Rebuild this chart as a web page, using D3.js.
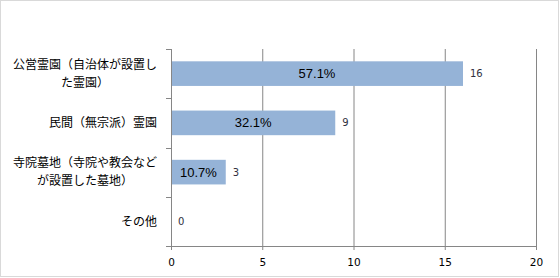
<!DOCTYPE html>
<html>
<head>
<meta charset="utf-8">
<script src="https://cdn.jsdelivr.net/npm/d3@7"></script>
<style>
  body { margin: 0; background: #fff; }
  svg { display: block; }
  .axis text { font-family: "DejaVu Sans", sans-serif; font-size: 10.5px; fill: #000; }
  .cat-label { font-family: "Noto Sans CJK JP", sans-serif; font-size: 12px; fill: #000; }
</style>
</head>
<body>
<div id="chart"></div>
<script>
// data
const categories = ['公営霊園', '民間', '寺院墓地', 'その他']
const categoryLines = [
  ['公営霊園（自治体が設置し', 'た霊園）'],
  ['民間（無宗派）霊園'],
  ['寺院墓地（寺院や教会など', 'が設置した墓地）'],
  ['その他']
]
const counts = [16, 9, 3, 0]
const percentLabels = ['57.1%', '32.1%', '10.7%', '']
const xTicks = [0, 5, 10, 15, 20]

const W = 560
const H = 278
const margin = { top: 49, right: 24, bottom: 32, left: 171 }
const width = 536 - margin.left
const height = 246 - margin.top

const svg = d3.select('#chart')
  .append('svg')
  .attr('width', W)
  .attr('height', H)

// outer frame
svg.append('rect')
  .attr('x', 0.5).attr('y', 0.5)
  .attr('width', W - 2).attr('height', H - 2)
  .attr('fill', '#fff')
  .attr('stroke', '#d9d9d9')

const g = svg.append('g')
  .attr('transform', `translate(${margin.left},${margin.top})`)

const x = d3.scaleLinear().domain([0, 20]).range([0, width])
const y = d3.scaleBand().domain(categories).range([0, height]).paddingInner(0.5).paddingOuter(0.25)

// gridlines
g.append('g')
  .attr('class', 'grid')
  .attr('transform', `translate(0,${height})`)
  .call(d3.axisBottom(x).tickValues(xTicks.slice(1)).tickSize(-height).tickFormat(''))
  .call(s => s.select('.domain').remove())
  .selectAll('line')
  .attr('stroke', '#868686')

// bars
g.selectAll('.bar')
  .data(counts)
  .enter()
  .append('rect')
  .attr('class', 'bar')
  .attr('x', 0)
  .attr('y', (d, i) => y(categories[i]))
  .attr('width', d => x(d))
  .attr('height', y.bandwidth())
  .attr('fill', '#95b3d7')

// percent labels inside bars
g.selectAll('.pct')
  .data(counts)
  .enter()
  .append('text')
  .attr('class', 'pct')
  .attr('x', d => x(d) / 2)
  .attr('y', (d, i) => y(categories[i]) + y.bandwidth() / 2)
  .attr('dy', '0.35em')
  .attr('text-anchor', 'middle')
  .attr('font-family', '"Liberation Sans", sans-serif')
  .attr('font-size', 13)
  .attr('fill', '#000')
  .text((d, i) => percentLabels[i])

// count labels
g.selectAll('.count')
  .data(counts)
  .enter()
  .append('text')
  .attr('class', 'count')
  .attr('x', d => x(d) + 7)
  .attr('y', (d, i) => y(categories[i]) + y.bandwidth() / 2)
  .attr('dy', '0.35em')
  .attr('font-family', '"DejaVu Sans", sans-serif')
  .attr('font-size', 10)
  .attr('fill', '#303040')
  .text(d => d)

// x axis
g.append('g')
  .attr('class', 'axis x-axis')
  .attr('transform', `translate(0,${height})`)
  .call(d3.axisBottom(x).tickValues(xTicks).tickSize(4).tickPadding(9))
  .call(s => s.select('.domain').attr('stroke', '#868686').attr('d', `M0,0.5H${width}`))
  .call(s => s.selectAll('line').attr('stroke', '#868686'))

// y axis line + boundary ticks
const step = y.step()
const yStart = y(categories[0]) - y.paddingOuter() * step
const bounds = d3.range(categories.length + 1).map(i => yStart + i * step)
g.append('line')
  .attr('x1', 0.5).attr('x2', 0.5)
  .attr('y1', 0).attr('y2', height)
  .attr('stroke', '#868686')
g.selectAll('.ytick')
  .data(bounds)
  .enter()
  .append('line')
  .attr('class', 'ytick')
  .attr('x1', -5).attr('x2', 0)
  .attr('y1', d => Math.round(d) + 0.5).attr('y2', d => Math.round(d) + 0.5)
  .attr('stroke', '#868686')

// category labels: full-width glyphs, so width = chars * font size;
// block is right-aligned, lines centred inside the block
const labelRight = -14
const fs = 12
categoryLines.forEach((lines, i) => {
  const cy = y(categories[i]) + y.bandwidth() / 2
  const widths = lines.map(l => l.length * fs)
  const maxW = d3.max(widths)
  const centre = labelRight - maxW / 2
  lines.forEach((line, j) => {
    g.append('text')
      .attr('class', 'cat-label')
      .attr('x', centre - widths[j] / 2)
      .attr('y', cy + (j - (lines.length - 1) / 2) * 18)
      .attr('dy', '0.36em')
      .text(line)
  })
})
</script>
</body>
</html>
